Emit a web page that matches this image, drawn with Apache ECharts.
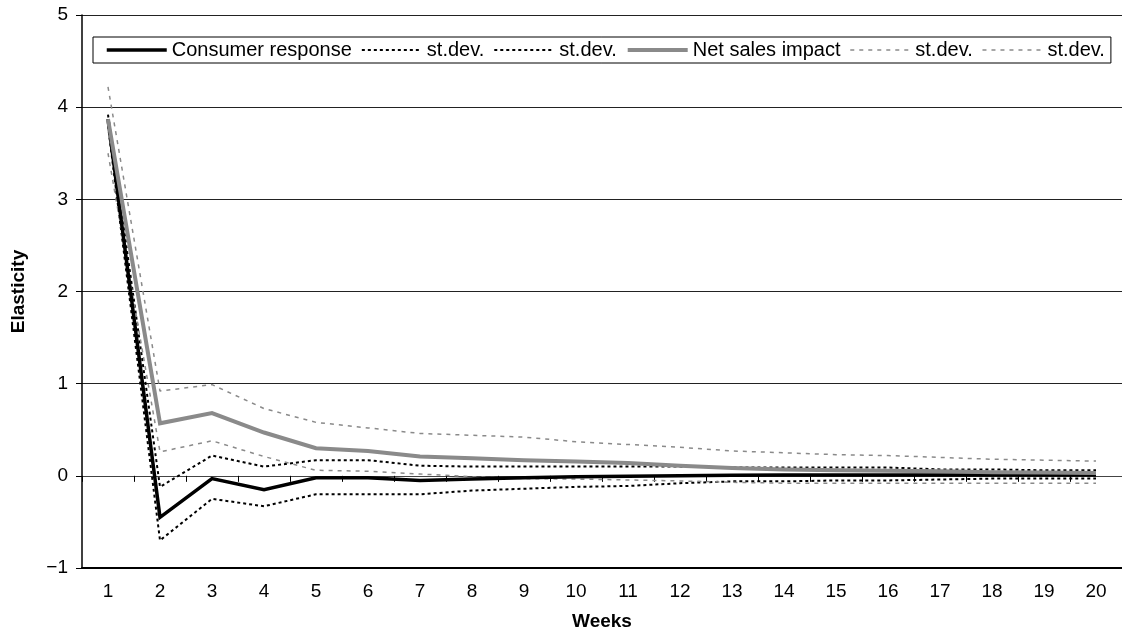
<!DOCTYPE html>
<html>
<head>
<meta charset="utf-8">
<script src="https://cdn.jsdelivr.net/npm/echarts@6/dist/echarts.min.js"></script>
<style>
  html, body { margin: 0; padding: 0; background: #fff; }
  #chart { width: 1122px; height: 638px; }
</style>
</head>
<body>
<div id="chart"></div>
<script>
// Weeks after the promotion
const weeks = ['1','2','3','4','5','6','7','8','9','10','11','12','13','14','15','16','17','18','19','20'];

// Consumer response elasticity with its ±1 st.dev. band
const consumer      = [3.87, -0.45, -0.03, -0.15, -0.02, -0.02, -0.05, -0.035, -0.02, -0.01, -0.005, 0.0, 0.005, 0.01, 0.01, 0.01, 0.01, 0.01, 0.01, 0.01];
const consumerUpper = [3.92, -0.12, 0.22, 0.10, 0.17, 0.17, 0.11, 0.10, 0.10, 0.10, 0.10, 0.10, 0.09, 0.09, 0.09, 0.09, 0.07, 0.07, 0.06, 0.06];
const consumerLower = [3.80, -0.70, -0.25, -0.33, -0.20, -0.20, -0.20, -0.16, -0.14, -0.12, -0.11, -0.08, -0.06, -0.06, -0.05, -0.05, -0.04, -0.03, -0.03, -0.03];

// Net sales impact elasticity with its ±1 st.dev. band
const netSales      = [3.87, 0.57, 0.68, 0.47, 0.30, 0.27, 0.21, 0.19, 0.17, 0.155, 0.14, 0.11, 0.085, 0.07, 0.06, 0.055, 0.05, 0.04, 0.035, 0.03];
const netUpper      = [4.22, 0.92, 0.99, 0.73, 0.58, 0.52, 0.46, 0.44, 0.42, 0.37, 0.34, 0.31, 0.27, 0.25, 0.23, 0.22, 0.20, 0.18, 0.17, 0.16];
const netLower      = [3.50, 0.26, 0.38, 0.21, 0.06, 0.05, 0.02, -0.01, -0.03, -0.035, -0.045, -0.055, -0.07, -0.08, -0.08, -0.08, -0.08, -0.08, -0.08, -0.08];

// Value axis ticks
const yTicks = { min: -1, max: 5, interval: 1 };

const FONT = 'Liberation Sans, Arial, Helvetica, sans-serif';
const BLACK = '#000';
const GREY = '#8a8a8a';

function solid(name, data, color, width, z) {
  return {
    name, type: 'line', data, xAxisIndex: 0,
    symbol: 'none', showSymbol: false, silent: true, animation: false, z,
    lineStyle: { color, width, type: 'solid', cap: 'butt', join: 'miter' },
    itemStyle: { color }
  };
}
function dotted(name, data, color, width, dash, z) {
  return {
    name, type: 'line', data, xAxisIndex: 0,
    symbol: 'none', showSymbol: false, silent: true, animation: false, z,
    lineStyle: { color, width, type: dash, cap: 'butt' },
    itemStyle: { color }
  };
}

const legendLabels = {
  'Consumer response': 'Consumer response',
  'cr-up': 'st.dev.',
  'cr-lo': 'st.dev.',
  'Net sales impact': 'Net sales impact',
  'ns-up': 'st.dev.',
  'ns-lo': 'st.dev.'
};

const chart = echarts.init(document.getElementById('chart'), null, { renderer: 'canvas' });

chart.setOption({
  backgroundColor: '#fff',
  animation: false,
  textStyle: { fontFamily: FONT, color: '#000' },
  grid: { left: 82, top: 15, right: -8, bottom: 70, containLabel: false },
  legend: {
    show: true,
    left: 93, top: 37,
    orient: 'horizontal',
    data: ['Consumer response', 'cr-up', 'cr-lo', 'Net sales impact', 'ns-up', 'ns-lo'],
    formatter: n => legendLabels[n],
    itemWidth: 60, itemHeight: 10, itemGap: 9,
    // line samples only, no point markers
    itemStyle: { opacity: 0, color: 'transparent', borderWidth: 0 },
    lineStyle: { width: 'inherit', type: 'inherit', color: 'inherit' },
    padding: [3, 6, 3, 12],
    borderColor: '#000', borderWidth: 1, borderRadius: 0,
    backgroundColor: '#fff',
    textStyle: { fontFamily: FONT, fontSize: 20, color: '#000' },
    selectedMode: false
  },
  xAxis: [
    {
      type: 'category', data: weeks, position: 'bottom', boundaryGap: true,
      name: 'Weeks', nameLocation: 'middle', nameGap: 44,
      nameTextStyle: { fontFamily: FONT, fontSize: 19, fontWeight: 'bold', color: '#000' },
      axisLine: { show: true, onZero: false, lineStyle: { color: '#000', width: 2 } },
      axisTick: { show: false },
      axisLabel: { show: true, margin: 14, fontFamily: FONT, fontSize: 19, color: '#000' },
      splitLine: { show: false }
    },
    {
      type: 'category', data: weeks, position: 'bottom', boundaryGap: true,
      axisLine: { show: true, onZero: true, lineStyle: { color: '#444', width: 1 } },
      axisTick: { show: true, inside: false, length: 6, lineStyle: { color: '#000', width: 1 } },
      axisLabel: { show: false },
      splitLine: { show: false }
    }
  ],
  yAxis: {
    type: 'value', min: yTicks.min, max: yTicks.max, interval: yTicks.interval,
    name: 'Elasticity', nameLocation: 'middle', nameGap: 54,
    nameTextStyle: { fontFamily: FONT, fontSize: 19, fontWeight: 'bold', color: '#000' },
    axisLine: { show: true, lineStyle: { color: '#000', width: 1.5 } },
    axisTick: { show: true, inside: false, length: 6, lineStyle: { color: '#000', width: 1 } },
    axisLabel: {
      margin: 14, fontFamily: FONT, fontSize: 19, color: '#000',
      formatter: v => (v < 0 ? '\u2212' + Math.abs(v) : String(v))
    },
    splitLine: { show: true, lineStyle: { color: '#222', width: 1 } }
  },
  series: [
    dotted('cr-up', consumerUpper, BLACK, 2, [3, 3], 2),
    dotted('cr-lo', consumerLower, BLACK, 2, [3, 3], 2),
    dotted('ns-up', netUpper, GREY, 1.5, [4, 5], 2),
    dotted('ns-lo', netLower, GREY, 1.5, [4, 5], 2),
    solid('Consumer response', consumer, BLACK, 3.5, 3),
    solid('Net sales impact', netSales, GREY, 4, 4)
  ]
});
</script>
</body>
</html>
